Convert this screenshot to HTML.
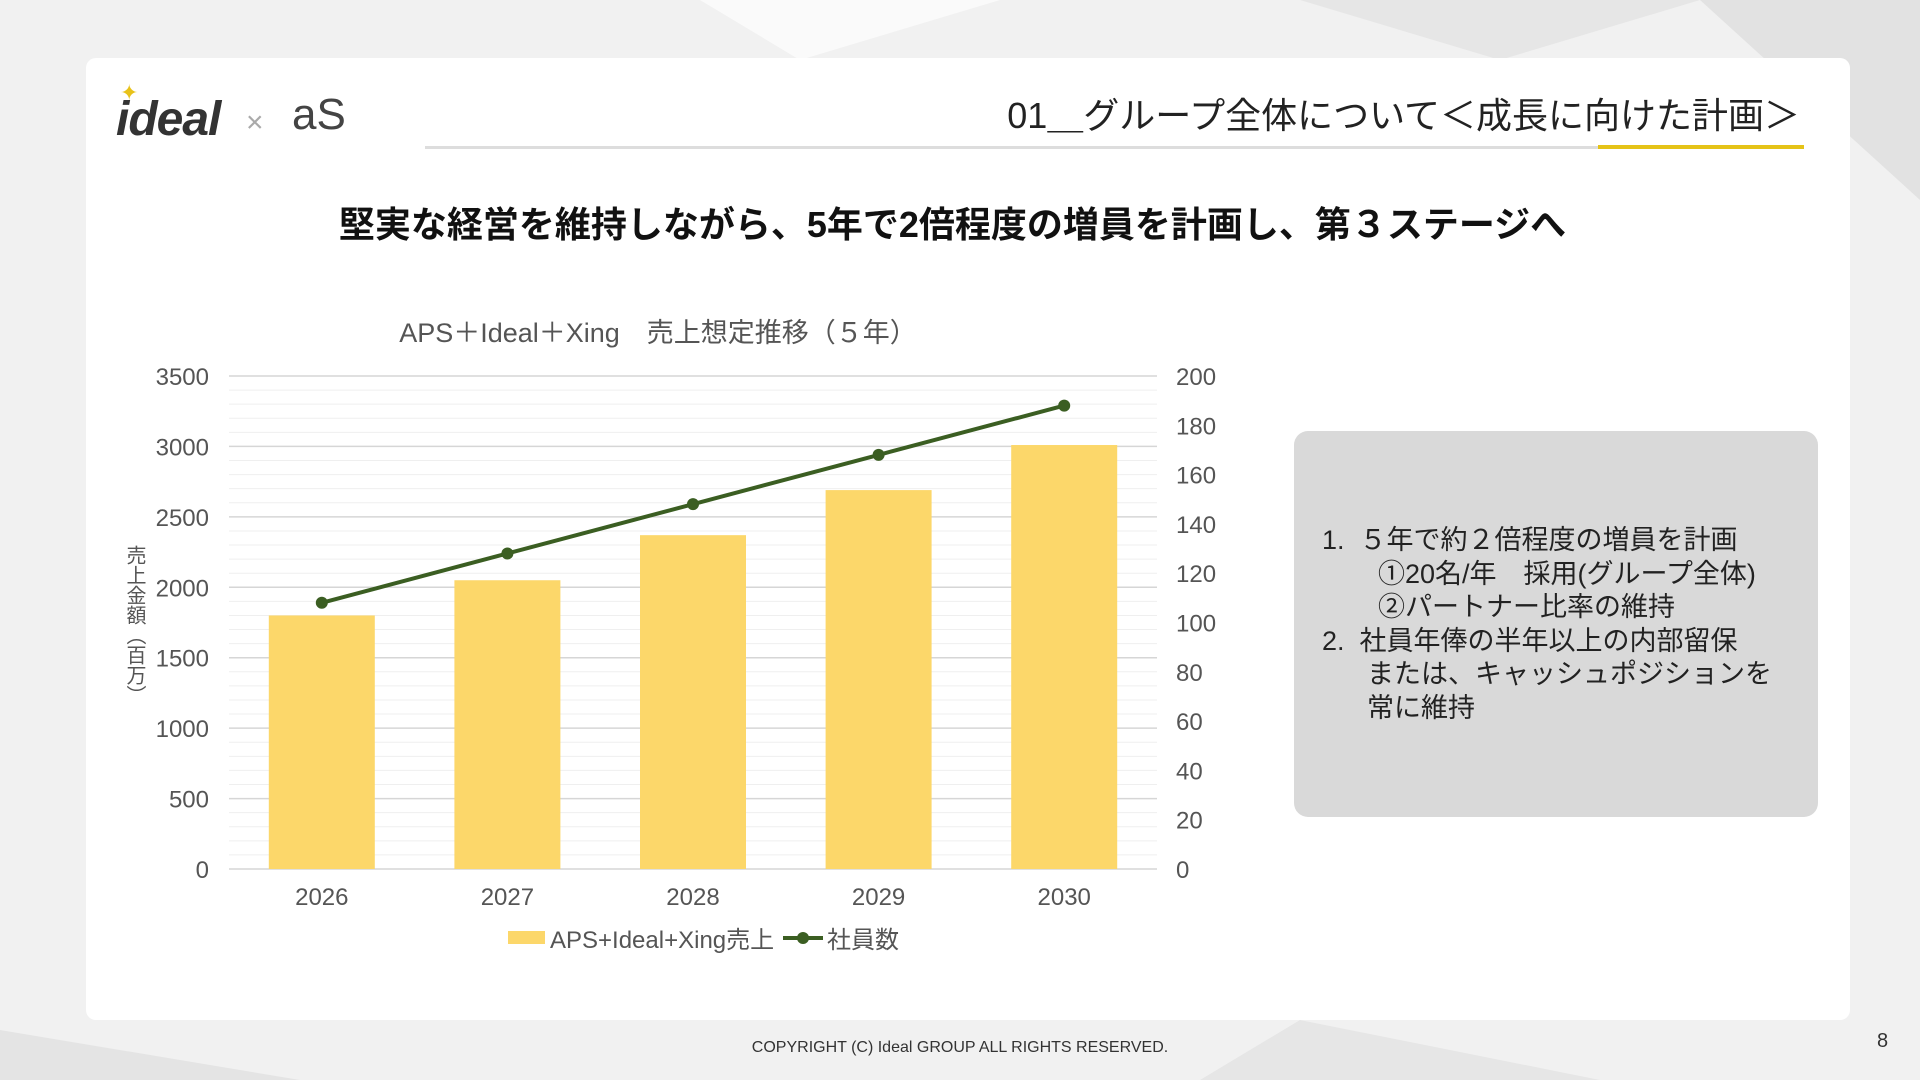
<!DOCTYPE html>
<html><head><meta charset="utf-8">
<style>
body{margin:0;width:1920px;height:1080px;overflow:hidden;background:#eeeeee;font-family:"Liberation Sans","Noto Sans CJK JP",sans-serif;position:relative}
.abs{position:absolute}
</style></head>
<body>
<svg class="abs" style="left:0;top:0" width="1920" height="1080">
<rect width="1920" height="1080" fill="#f1f1f1"/>
<polygon points="700,0 1000,0 800,60" fill="#fafafa"/>
<polygon points="1300,0 1700,0 1500,60" fill="#e6e6e6"/>
<polygon points="1700,0 1920,0 1920,200" fill="#e2e2e2"/>
<polygon points="0,1030 300,1080 0,1080" fill="#e4e4e4"/>
<polygon points="1300,1020 1600,1080 1200,1080" fill="#e6e6e6"/>
</svg>
<div class="abs" style="left:86px;top:58px;width:1764px;height:962px;background:#fff;border-radius:10px"></div>

<div class="abs" style="left:116px;top:92px;font:italic bold 48px 'Liberation Sans',sans-serif;color:#333;letter-spacing:-1px">ideal</div>
<div class="abs" style="left:120px;top:80px;color:#e8c21a;font-size:22px">✦</div>
<div class="abs" style="left:246px;top:106px;color:#aaa;font-size:30px">×</div>
<div class="abs" style="left:292px;top:90px;color:#444;font:44px 'Liberation Sans',sans-serif">aS</div>

<div class="abs" style="right:120px;top:87px;font-size:36px;color:#222;white-space:nowrap">01＿グループ全体について＜成長に向けた計画＞</div>
<div class="abs" style="left:425px;top:146px;width:1379px;height:3px;background:#ddd"></div>
<div class="abs" style="left:1598px;top:145px;width:206px;height:4px;background:#e5c317"></div>

<div class="abs" style="left:300px;top:196px;width:1305px;text-align:center;font-size:36px;font-weight:bold;color:#111;white-space:nowrap">堅実な経営を維持しながら、5年で2倍程度の増員を計画し、第３ステージへ</div>

<svg class="abs" id="chart" style="left:0;top:0" width="1300" height="1000"></svg>

<div class="abs" style="left:1294px;top:431px;width:524px;height:386px;background:#d9d9d9;border-radius:14px"></div>
<div class="abs" style="left:1322px;top:524px;font-size:27px;line-height:33.5px;color:#222;white-space:nowrap">
<div>1.&nbsp;&nbsp;５年で約２倍程度の増員を計画</div>
<div style="padding-left:56px">①20名/年　採用(グループ全体)</div>
<div style="padding-left:56px">②パートナー比率の維持</div>
<div>2.&nbsp;&nbsp;社員年俸の半年以上の内部留保</div>
<div style="padding-left:45px">または、キャッシュポジションを</div>
<div style="padding-left:45px">常に維持</div>
</div>

<div class="abs" style="left:0;width:1920px;top:1039px;text-align:center;font-size:16px;color:#333">COPYRIGHT (C) Ideal GROUP ALL RIGHTS RESERVED.</div>
<div class="abs" style="left:1877px;top:1030px;font-size:20px;color:#333">8</div>

<script>
const categories=["2026","2027","2028","2029","2030"];
const salesValues=[1800,2050,2370,2690,3010];
const staffValues=[108,128,148,168,188];
const leftTicks=[0,500,1000,1500,2000,2500,3000,3500];
const rightTicks=[0,20,40,60,80,100,120,140,160,180,200];
const svg=document.getElementById('chart');
const NS='http://www.w3.org/2000/svg';
const X0=229,X1=1157,Y0=869,Y1=376;
const yL=v=>Y0-(v/3500)*(Y0-Y1);
const yR=v=>Y0-(v/200)*(Y0-Y1);
const bw=(X1-X0)/categories.length;
const xc=i=>X0+bw*(i+0.5);
function mk(t,a,txt){const e=document.createElementNS(NS,t);for(const k in a)e.setAttribute(k,a[k]);if(txt!==undefined)e.textContent=txt;svg.appendChild(e);return e;}
const F='"Liberation Sans","Noto Sans CJK JP",sans-serif';
for(let v=0;v<=3500;v+=100){const g=mk('line',{x1:X0,x2:X1,y1:yL(v),y2:yL(v),stroke:v%500===0?'#d6d6d6':'#efefef','stroke-width':v%500===0?1.5:1});

}
leftTicks.forEach(v=>{const t=mk('text',{x:209,y:yL(v)+9,'text-anchor':'end','font-size':24,fill:'#555','font-family':F},String(v));

});
rightTicks.forEach(v=>{const t=mk('text',{x:1176,y:yR(v)+9,'font-size':24,fill:'#555','font-family':F},String(v));

});
salesValues.forEach((v,i)=>{const r=mk('rect',{x:xc(i)-53,y:yL(v),width:106,height:Y0-yL(v),fill:'#fcd76a'});

});
categories.forEach((c,i)=>{const t=mk('text',{x:xc(i),y:905,'text-anchor':'middle','font-size':24,fill:'#555','font-family':F},c);

});
const pl=mk('polyline',{points:staffValues.map((v,i)=>xc(i)+','+yR(v)).join(' '),fill:'none',stroke:'#3b5e22','stroke-width':4});


staffValues.forEach((v,i)=>{const c=mk('circle',{cx:xc(i),cy:yR(v),r:6,fill:'#3b5e22'});

});
const ti=mk('text',{x:658,y:342,'text-anchor':'middle','font-size':27,fill:'#555','font-family':F},'APS＋Ideal＋Xing　売上想定推移（５年）');


const yt=mk('text',{x:134,y:545,'font-size':20,fill:'#555','font-family':F,'writing-mode':'tb'},'売上金額（百万）');


const lr=mk('rect',{x:508,y:931,width:37,height:13,fill:'#fcd76a'});


const lt=mk('text',{x:550,y:948,'font-size':24,fill:'#555','font-family':F},'APS+Ideal+Xing売上');


const ll=mk('line',{x1:783,x2:823,y1:938,y2:938,stroke:'#3b5e22','stroke-width':4});


const lc=mk('circle',{cx:803,cy:938,r:6,fill:'#3b5e22'});


const lt2=mk('text',{x:827,y:948,'font-size':24,fill:'#555','font-family':F},'社員数');


</script>
</body></html>
